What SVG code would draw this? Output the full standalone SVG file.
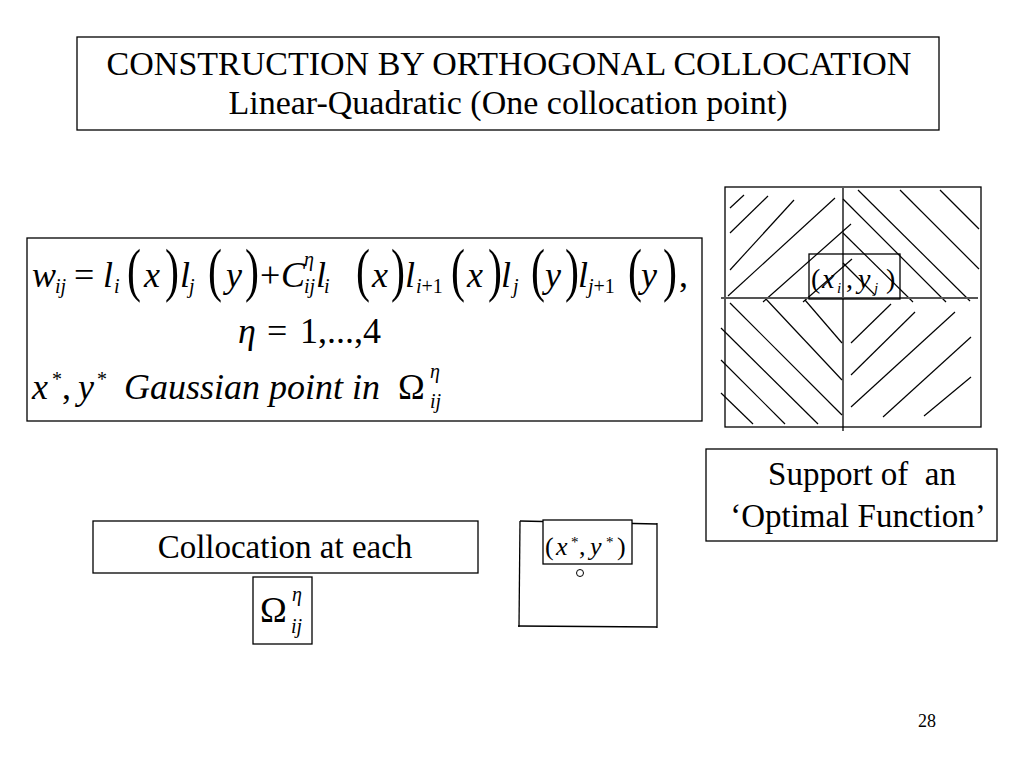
<svg xmlns="http://www.w3.org/2000/svg" width="1024" height="768" viewBox="0 0 1024 768">
<style>
.box{fill:#fff;stroke:#000;stroke-width:1.3}
.t{font-family:"Liberation Serif","Times New Roman",serif;fill:#000}
.it{font-style:italic}
.m{font-size:36px}
.s{font-size:20px}
.lab{font-size:33px}
.h{stroke:#000;stroke-width:1.2;fill:none}
.ln{stroke:#000;stroke-width:1.3;fill:none}
.par{font-size:42px}
</style>
<defs>
<text id="lp" class="t par" transform="scale(1,1.4)">(</text>
<text id="rp" class="t par" transform="scale(1,1.4)">)</text>
</defs>
<rect width="1024" height="768" fill="#fff"/>

<g id="title">
<rect class="box" x="77" y="37" width="862" height="93"/>
<text class="t" x="509" y="75" font-size="34" text-anchor="middle">CONSTRUCTION BY ORTHOGONAL COLLOCATION</text>
<text class="t" x="508" y="114" font-size="34" text-anchor="middle">Linear-Quadratic (One collocation point)</text>
</g>

<g id="formula">
<rect class="box" x="27" y="238" width="675" height="183"/>
<text class="t it m" x="32" y="287">w</text>
<text class="t it s" x="55" y="293">ij</text>
<text class="t m" x="74" y="287">=</text>
<text class="t it m" x="103" y="287">l</text>
<text class="t it s" x="114" y="293">i</text>
<use href="#lp" x="127" y="290"/>
<text class="t it m" x="144" y="287">x</text>
<use href="#rp" x="165" y="290"/>
<text class="t it m" x="180" y="287">l</text>
<text class="t it s" x="189" y="293">j</text>
<use href="#lp" x="208" y="290"/>
<text class="t it m" x="226" y="287">y</text>
<use href="#rp" x="245" y="290"/>
<text class="t m" x="260" y="287">+</text>
<text class="t it m" x="281" y="287">C</text>
<text class="t it s" x="304" y="266">η</text>
<text class="t it s" x="304" y="293">ij</text>
<text class="t it m" x="316" y="287">l</text>
<text class="t it s" x="324" y="293">i</text>
<use href="#lp" x="356" y="290"/>
<text class="t it m" x="372" y="287">x</text>
<use href="#rp" x="391" y="290"/>
<text class="t it m" x="405" y="287">l</text>
<text class="t s" x="416" y="293"><tspan class="it">i</tspan>+1</text>
<use href="#lp" x="451" y="290"/>
<text class="t it m" x="467" y="287">x</text>
<use href="#rp" x="488" y="290"/>
<text class="t it m" x="501" y="287">l</text>
<text class="t it s" x="513" y="293">j</text>
<use href="#lp" x="531" y="290"/>
<text class="t it m" x="545" y="287">y</text>
<use href="#rp" x="565" y="290"/>
<text class="t it m" x="578" y="287">l</text>
<text class="t s" x="588" y="293"><tspan class="it">j</tspan>+1</text>
<use href="#lp" x="628" y="290"/>
<text class="t it m" x="641" y="287">y</text>
<use href="#rp" x="663" y="290"/>
<text class="t m" x="679" y="287">,</text>

<text class="t it m" x="238" y="343">η</text>
<text class="t m" x="267" y="343">=</text>
<text class="t m" x="300" y="343">1,...,4</text>

<text class="t it m" x="32" y="399">x</text>
<text class="t s" x="52" y="386">*</text>
<text class="t m" x="62" y="399">,</text>
<text class="t it m" x="78" y="399">y</text>
<text class="t s" x="97" y="386">*</text>
<text class="t it m" x="124" y="399">Gaussian point in</text>
<text class="t m" x="398" y="399">Ω</text>
<text class="t it s" x="430" y="378">η</text>
<text class="t it s" x="430" y="408">ij</text>
</g>

<g id="support-figure">
<rect class="box" x="725" y="187" width="256" height="240"/>
<g class="h">
<line x1="730" y1="208" x2="744" y2="195"/>
<line x1="730" y1="233" x2="768" y2="196"/>
<line x1="730" y1="270" x2="794" y2="200"/>
<line x1="728" y1="296" x2="835" y2="198"/>
<line x1="763" y1="302" x2="851" y2="224"/>
<line x1="803" y1="302" x2="852" y2="259"/>
<line x1="858" y1="190" x2="970" y2="301"/>
<line x1="900" y1="190" x2="979" y2="269"/>
<line x1="940" y1="190" x2="979" y2="229"/>
<line x1="843" y1="199" x2="946" y2="302"/>
<line x1="843" y1="233" x2="913" y2="302"/>
<line x1="843" y1="263" x2="875" y2="295"/>
<line x1="730" y1="303" x2="842" y2="415"/>
<line x1="765" y1="298" x2="842" y2="380"/>
<line x1="805" y1="300" x2="842" y2="343"/>
<line x1="721" y1="328" x2="818" y2="424"/>
<line x1="721" y1="360" x2="785" y2="424"/>
<line x1="721" y1="393" x2="753" y2="424"/>
<line x1="851" y1="343" x2="891" y2="304"/>
<line x1="851" y1="375" x2="915" y2="312"/>
<line x1="851" y1="407" x2="955" y2="312"/>
<line x1="883" y1="417" x2="971" y2="337"/>
<line x1="924" y1="416" x2="971" y2="377"/>
</g>
<line x1="843" y1="188" x2="843" y2="431" stroke="#000" stroke-width="1.3"/>
<line x1="721" y1="298" x2="978" y2="298" stroke="#555" stroke-width="2"/>
<rect x="809" y="254" width="91" height="45" fill="none" stroke="#000" stroke-width="1.3"/>
<text class="t" x="811" y="288" font-size="28">(</text>
<text class="t it" x="822" y="288" font-size="28">x</text>
<text class="t it" x="837" y="293" font-size="15">i</text>
<text class="t" x="846" y="288" font-size="28">,</text>
<text class="t it" x="858" y="288" font-size="28">y</text>
<text class="t it" x="874" y="293" font-size="15">j</text>
<text class="t" x="886" y="288" font-size="28">)</text>
</g>

<g id="support-label">
<rect class="box" x="706" y="449" width="291" height="92"/>
<text class="t lab" x="862" y="485" text-anchor="middle" xml:space="preserve">Support of  an</text>
<text class="t lab" x="858" y="527" text-anchor="middle">‘Optimal Function’</text>
</g>

<g id="collocation-label">
<rect class="box" x="93" y="521" width="385" height="52"/>
<text class="t lab" x="285" y="558" text-anchor="middle">Collocation at each</text>
</g>

<g id="omega-box">
<rect class="box" x="253" y="577" width="59" height="67"/>
<text class="t m" x="260" y="622">Ω</text>
<text class="t it s" x="292" y="601">η</text>
<text class="t it s" x="291" y="633">ij</text>
</g>

<g id="gauss-figure">
<line class="ln" x1="520" y1="521" x2="657" y2="524"/>
<line class="ln" x1="520" y1="521" x2="519" y2="627"/>
<line class="ln" x1="657" y1="523" x2="657" y2="628"/>
<line class="ln" x1="518" y1="626" x2="657" y2="627"/>
<rect x="543" y="520" width="89" height="44" fill="#fff" stroke="#000" stroke-width="1.3"/>
<text class="t" x="545" y="555" font-size="26">(</text>
<text class="t it" x="556" y="555" font-size="26">x</text>
<text class="t" x="571" y="547" font-size="15">*</text>
<text class="t" x="579" y="555" font-size="26">,</text>
<text class="t it" x="590" y="555" font-size="26">y</text>
<text class="t" x="606" y="547" font-size="15">*</text>
<text class="t" x="617" y="555" font-size="26">)</text>
<circle cx="580" cy="573" r="3.5" fill="none" stroke="#000" stroke-width="1"/>
</g>

<g id="connectors"></g>

<g id="page-number">
<text class="t" x="927" y="727" font-size="18" text-anchor="middle">28</text>
</g>
</svg>
